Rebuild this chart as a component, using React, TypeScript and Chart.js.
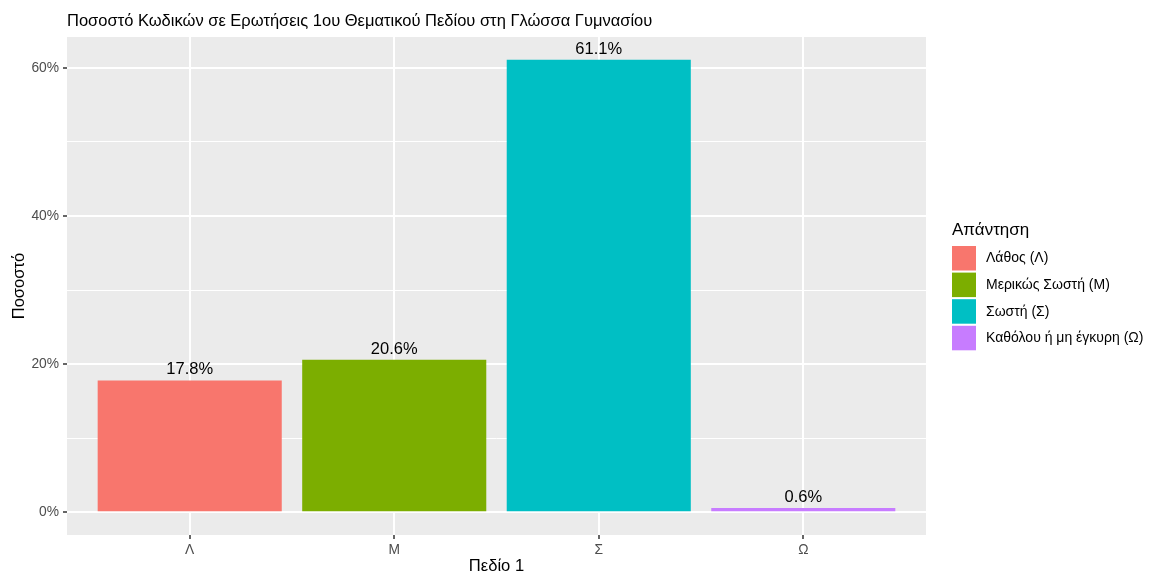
import React, { useEffect, useRef } from 'react';
import { Chart, registerables } from 'chart.js';

Chart.register(...registerables);

const chartTitle = 'Ποσοστό Κωδικών σε Ερωτήσεις 1ου Θεματικού Πεδίου στη Γλώσσα Γυμνασίου';
const xTitle = 'Πεδίο 1';
const yTitle = 'Ποσοστό';
const legendTitle = 'Απάντηση';
const categories = ['Λ', 'Μ', 'Σ', 'Ω'];
const legendLabels = ['Λάθος (Λ)', 'Μερικώς Σωστή (Μ)', 'Σωστή (Σ)', 'Καθόλου ή μη έγκυρη (Ω)'];
const values = [17.8, 20.6, 61.1, 0.6];
const barColors = ['#F8766D', '#7CAE00', '#00BFC4', '#C77CFF'];
const yMajorTicks = [0, 20, 40, 60];
const yMinorTicks = [10, 30, 50];

const FONT = '"Liberation Sans", Arial, Helvetica, sans-serif';

const W = 1154;
const H = 573;

const ggPlugin = {
  id: 'ggDecor',
  beforeDraw(chart: any) {
    const { ctx, chartArea } = chart;
    ctx.save();
    ctx.fillStyle = '#EBEBEB';
    ctx.fillRect(chartArea.left, chartArea.top, chartArea.right - chartArea.left, chartArea.bottom - chartArea.top);
    ctx.restore();
  },
  afterDatasetsDraw(chart: any) {
    const { ctx } = chart;
    const meta = chart.getDatasetMeta(0);
    ctx.save();
    ctx.fillStyle = '#000000';
    ctx.font = `16.5px ${FONT}`;
    ctx.textAlign = 'center';
    ctx.textBaseline = 'alphabetic';
    meta.data.forEach((el: any, i: number) => {
      ctx.fillText(values[i].toFixed(1) + '%', el.x, el.y - 6);
    });
    ctx.restore();
  },
  afterDraw(chart: any) {
    const { ctx, chartArea } = chart;
    ctx.save();
    // title
    ctx.fillStyle = '#000000';
    ctx.font = `16.5px ${FONT}`;
    ctx.textAlign = 'left';
    ctx.textBaseline = 'alphabetic';
    ctx.fillText(chartTitle, chartArea.left, 26);
    // x title
    ctx.font = `16.6px ${FONT}`;
    ctx.textAlign = 'center';
    ctx.fillText(xTitle, (chartArea.left + chartArea.right) / 2, 571);
    // y title
    ctx.save();
    ctx.translate(23.5, (chartArea.top + chartArea.bottom) / 2);
    ctx.rotate(-Math.PI / 2);
    ctx.textAlign = 'center';
    ctx.fillText(yTitle, 0, 0);
    ctx.restore();
    // legend
    const lx = 952;
    ctx.textAlign = 'left';
    ctx.font = `17px ${FONT}`;
    ctx.fillText(legendTitle, lx, 235);
    ctx.font = `14px ${FONT}`;
    ctx.textBaseline = 'middle';
    legendLabels.forEach((lab, i) => {
      const y0 = 246 + i * 26.6;
      ctx.fillStyle = barColors[i];
      ctx.fillRect(lx, y0, 24, 24.5);
      ctx.fillStyle = '#000000';
      ctx.fillText(lab, lx + 34, y0 + 12.5);
    });
    ctx.restore();
  },
};

export default function App() {
  const ref = useRef<HTMLCanvasElement | null>(null);
  useEffect(() => {
    if (!ref.current) return;
    const maxV = Math.max(...values);
    const yMin = -0.05 * maxV;
    const yMax = maxV * 1.05;
    const chart = new Chart(ref.current, {
      type: 'bar',
      data: {
        datasets: [
          {
            data: values.map((v, i) => ({ x: i + 1, y: v })),
            backgroundColor: barColors,
            borderWidth: 0,
            barPercentage: 0.9,
            categoryPercentage: 1,
          },
        ],
      },
      options: {
        responsive: false,
        animation: false,
        devicePixelRatio: 1,
        layout: { padding: { top: 37, right: W - 926, left: 0, bottom: 0 } },
        plugins: { legend: { display: false }, tooltip: { enabled: false }, title: { display: false } },
        scales: {
          x: {
            type: 'linear',
            min: 0.4,
            max: categories.length + 0.6,
            offset: false,
            afterBuildTicks: (scale: any) => {
              scale.ticks = categories.map((_, i) => ({ value: i + 1 }));
            },
            afterFit: (scale: any) => {
              scale.height = H - 535;
            },
            border: { display: false },
            grid: {
              offset: false,
              color: '#FFFFFF',
              lineWidth: 2,
              drawTicks: true,
              tickLength: 4,
              tickColor: '#333333',
              tickWidth: 1.5,
            },
            ticks: {
              autoSkip: false,
              maxRotation: 0,
              padding: 3,
              color: '#4D4D4D',
              font: { family: FONT, size: 13.8 },
              callback: (v: any) => categories[Math.round(Number(v)) - 1] ?? '',
            },
          },
          y: {
            type: 'linear',
            min: yMin,
            max: yMax,
            afterBuildTicks: (scale: any) => {
              scale.ticks = [...yMajorTicks, ...yMinorTicks].sort((a, b) => a - b).map((v) => ({ value: v }));
            },
            afterFit: (scale: any) => {
              scale.width = 67;
            },
            border: { display: false },
            grid: {
              color: '#FFFFFF',
              lineWidth: (c: any) => (yMajorTicks.includes(c.tick?.value) ? 2 : 1),
              drawTicks: true,
              tickLength: 4,
              tickColor: (c: any) => (yMajorTicks.includes(c.tick?.value) ? '#333333' : 'rgba(0,0,0,0)'),
              tickWidth: 1.5,
            },
            ticks: {
              autoSkip: false,
              padding: 4,
              color: '#4D4D4D',
              font: { family: FONT, size: 13.8 },
              callback: (v: any) => (yMajorTicks.includes(Number(v)) ? `${v}%` : ''),
            },
          },
        },
      },
      plugins: [ggPlugin],
    } as any);
    return () => chart.destroy();
  }, []);
  return (
    <div style={{ position: 'absolute', left: 0, top: 0, width: W, height: H, background: '#FFFFFF' }}>
      <canvas ref={ref} width={W} height={H} style={{ width: W, height: H }} />
    </div>
  );
}
